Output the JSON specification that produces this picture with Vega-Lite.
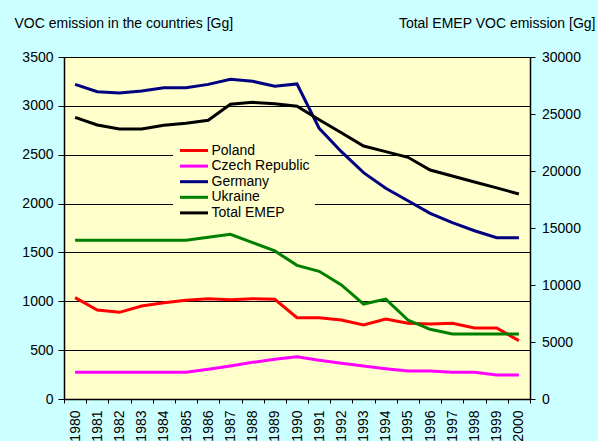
{
  "$schema": "https://vega.github.io/schema/vega-lite/v6.json",
  "width": 466,
  "height": 342,
  "autosize": {"type": "none"},
  "padding": {"left": 64, "top": 57, "right": 68, "bottom": 42},
  "data": {
    "values": [
      {"year": 1980, "series": "Poland", "value": 1037},
      {"year": 1981, "series": "Poland", "value": 911},
      {"year": 1982, "series": "Poland", "value": 887},
      {"year": 1983, "series": "Poland", "value": 952},
      {"year": 1984, "series": "Poland", "value": 986},
      {"year": 1985, "series": "Poland", "value": 1010},
      {"year": 1986, "series": "Poland", "value": 1027},
      {"year": 1987, "series": "Poland", "value": 1016},
      {"year": 1988, "series": "Poland", "value": 1027},
      {"year": 1989, "series": "Poland", "value": 1020},
      {"year": 1990, "series": "Poland", "value": 832},
      {"year": 1991, "series": "Poland", "value": 832},
      {"year": 1992, "series": "Poland", "value": 808},
      {"year": 1993, "series": "Poland", "value": 757},
      {"year": 1994, "series": "Poland", "value": 819},
      {"year": 1995, "series": "Poland", "value": 775},
      {"year": 1996, "series": "Poland", "value": 768},
      {"year": 1997, "series": "Poland", "value": 775},
      {"year": 1998, "series": "Poland", "value": 727},
      {"year": 1999, "series": "Poland", "value": 727},
      {"year": 2000, "series": "Poland", "value": 597},
      {"year": 1980, "series": "Czech Republic", "value": 273},
      {"year": 1981, "series": "Czech Republic", "value": 273},
      {"year": 1982, "series": "Czech Republic", "value": 273},
      {"year": 1983, "series": "Czech Republic", "value": 273},
      {"year": 1984, "series": "Czech Republic", "value": 273},
      {"year": 1985, "series": "Czech Republic", "value": 273},
      {"year": 1986, "series": "Czech Republic", "value": 304},
      {"year": 1987, "series": "Czech Republic", "value": 338},
      {"year": 1988, "series": "Czech Republic", "value": 375},
      {"year": 1989, "series": "Czech Republic", "value": 406},
      {"year": 1990, "series": "Czech Republic", "value": 433},
      {"year": 1991, "series": "Czech Republic", "value": 396},
      {"year": 1992, "series": "Czech Republic", "value": 365},
      {"year": 1993, "series": "Czech Republic", "value": 338},
      {"year": 1994, "series": "Czech Republic", "value": 310},
      {"year": 1995, "series": "Czech Republic", "value": 287},
      {"year": 1996, "series": "Czech Republic", "value": 287},
      {"year": 1997, "series": "Czech Republic", "value": 273},
      {"year": 1998, "series": "Czech Republic", "value": 273},
      {"year": 1999, "series": "Czech Republic", "value": 246},
      {"year": 2000, "series": "Czech Republic", "value": 246},
      {"year": 1980, "series": "Germany", "value": 3220},
      {"year": 1981, "series": "Germany", "value": 3145},
      {"year": 1982, "series": "Germany", "value": 3131},
      {"year": 1983, "series": "Germany", "value": 3152},
      {"year": 1984, "series": "Germany", "value": 3186},
      {"year": 1985, "series": "Germany", "value": 3186},
      {"year": 1986, "series": "Germany", "value": 3220},
      {"year": 1987, "series": "Germany", "value": 3272},
      {"year": 1988, "series": "Germany", "value": 3251},
      {"year": 1989, "series": "Germany", "value": 3200},
      {"year": 1990, "series": "Germany", "value": 3224},
      {"year": 1991, "series": "Germany", "value": 2770},
      {"year": 1992, "series": "Germany", "value": 2531},
      {"year": 1993, "series": "Germany", "value": 2316},
      {"year": 1994, "series": "Germany", "value": 2156},
      {"year": 1995, "series": "Germany", "value": 2029},
      {"year": 1996, "series": "Germany", "value": 1900},
      {"year": 1997, "series": "Germany", "value": 1804},
      {"year": 1998, "series": "Germany", "value": 1722},
      {"year": 1999, "series": "Germany", "value": 1651},
      {"year": 2000, "series": "Germany", "value": 1651},
      {"year": 1980, "series": "Ukraine", "value": 1624},
      {"year": 1981, "series": "Ukraine", "value": 1624},
      {"year": 1982, "series": "Ukraine", "value": 1624},
      {"year": 1983, "series": "Ukraine", "value": 1624},
      {"year": 1984, "series": "Ukraine", "value": 1624},
      {"year": 1985, "series": "Ukraine", "value": 1624},
      {"year": 1986, "series": "Ukraine", "value": 1655},
      {"year": 1987, "series": "Ukraine", "value": 1686},
      {"year": 1988, "series": "Ukraine", "value": 1600},
      {"year": 1989, "series": "Ukraine", "value": 1515},
      {"year": 1990, "series": "Ukraine", "value": 1368},
      {"year": 1991, "series": "Ukraine", "value": 1307},
      {"year": 1992, "series": "Ukraine", "value": 1167},
      {"year": 1993, "series": "Ukraine", "value": 972},
      {"year": 1994, "series": "Ukraine", "value": 1023},
      {"year": 1995, "series": "Ukraine", "value": 808},
      {"year": 1996, "series": "Ukraine", "value": 713},
      {"year": 1997, "series": "Ukraine", "value": 665},
      {"year": 1998, "series": "Ukraine", "value": 665},
      {"year": 1999, "series": "Ukraine", "value": 665},
      {"year": 2000, "series": "Ukraine", "value": 665},
      {"year": 1980, "series": "Total EMEP", "value": 24710},
      {"year": 1981, "series": "Total EMEP", "value": 24035},
      {"year": 1982, "series": "Total EMEP", "value": 23684},
      {"year": 1983, "series": "Total EMEP", "value": 23684},
      {"year": 1984, "series": "Total EMEP", "value": 24010},
      {"year": 1985, "series": "Total EMEP", "value": 24185},
      {"year": 1986, "series": "Total EMEP", "value": 24448},
      {"year": 1987, "series": "Total EMEP", "value": 25850},
      {"year": 1988, "series": "Total EMEP", "value": 26026},
      {"year": 1989, "series": "Total EMEP", "value": 25906},
      {"year": 1990, "series": "Total EMEP", "value": 25675},
      {"year": 1991, "series": "Total EMEP", "value": 24500},
      {"year": 1992, "series": "Total EMEP", "value": 23350},
      {"year": 1993, "series": "Total EMEP", "value": 22193},
      {"year": 1994, "series": "Total EMEP", "value": 21700},
      {"year": 1995, "series": "Total EMEP", "value": 21200},
      {"year": 1996, "series": "Total EMEP", "value": 20088},
      {"year": 1997, "series": "Total EMEP", "value": 19560},
      {"year": 1998, "series": "Total EMEP", "value": 19040},
      {"year": 1999, "series": "Total EMEP", "value": 18520},
      {"year": 2000, "series": "Total EMEP", "value": 17980}
    ]
  },
  "encoding": {
    "x": {
      "field": "year",
      "type": "ordinal",
      "bandPosition": 0.5,
      "scale": {"type": "band", "paddingInner": 0, "paddingOuter": 0},
      "axis": {
        "title": null,
        "labelAngle": -90,
        "labelAlign": "right",
        "labelBaseline": "middle",
        "tickBand": "extent",
        "tickSize": 4,
        "labelPadding": 7,
        "grid": false,
        "labelOverlap": false
      }
    },
    "color": {
      "field": "series",
      "type": "nominal",
      "scale": {
        "domain": ["Poland", "Czech Republic", "Germany", "Ukraine", "Total EMEP"],
        "range": ["#FF0000", "#FF00FF", "#000080", "#008000", "#000000"]
      },
      "legend": {
        "orient": "none",
        "legendX": 109,
        "legendY": 81.5,
        "title": null,
        "fillColor": "#FFFFCC",
        "padding": 5,
        "symbolType": "M-2.8,0H2.8",
        "symbolSize": 100,
        "symbolStrokeWidth": 3,
        "symbolOffset": 9,
        "labelOffset": 10.5,
        "labelFontSize": 14,
        "labelFont": "Liberation Sans",
        "labelColor": "#000000",
        "rowPadding": 1.6
      }
    }
  },
  "layer": [
    {
      "transform": [{"filter": "datum.series !== 'Total EMEP'"}],
      "mark": {"type": "line", "strokeWidth": 3},
      "encoding": {
        "y": {
          "field": "value",
          "type": "quantitative",
          "scale": {"domain": [0, 3500], "nice": false},
          "axis": {
            "values": [0, 500, 1000, 1500, 2000, 2500, 3000, 3500],
            "format": "d",
            "title": "VOC emission in the countries [Gg]",
            "titleAngle": 0,
            "titleAlign": "left",
            "titleBaseline": "alphabetic",
            "titleX": -50,
            "titleY": -30,
            "grid": true,
            "gridColor": "#000000",
            "gridOpacity": 1,
            "gridWidth": 1,
            "tickSize": 6,
            "labelPadding": 5
          }
        }
      }
    },
    {
      "transform": [{"filter": "datum.series === 'Total EMEP'"}],
      "mark": {"type": "line", "strokeWidth": 3},
      "encoding": {
        "y": {
          "field": "value",
          "type": "quantitative",
          "scale": {"domain": [0, 30000], "nice": false},
          "axis": {
            "orient": "right",
            "values": [0, 5000, 10000, 15000, 20000, 25000, 30000],
            "format": "d",
            "title": "Total EMEP VOC emission [Gg]",
            "titleAngle": 0,
            "titleAlign": "right",
            "titleBaseline": "alphabetic",
            "titleX": 65,
            "titleY": -30,
            "grid": false,
            "tickSize": 5,
            "labelPadding": 6.5
          }
        }
      }
    }
  ],
  "resolve": {"scale": {"y": "independent"}},
  "config": {
    "background": "#CCFFFF",
    "font": "Liberation Sans",
    "view": {"fill": "#FFFFCC", "stroke": "#000000", "strokeWidth": 1},
    "axis": {
      "labelFont": "Liberation Sans",
      "labelFontSize": 14,
      "labelColor": "#000000",
      "domainColor": "#000000",
      "domainWidth": 1.5,
      "tickColor": "#000000",
      "tickWidth": 1,
      "titleFont": "Liberation Sans",
      "titleFontSize": 14,
      "titleFontWeight": "normal",
      "titleColor": "#000000"
    }
  }
}
